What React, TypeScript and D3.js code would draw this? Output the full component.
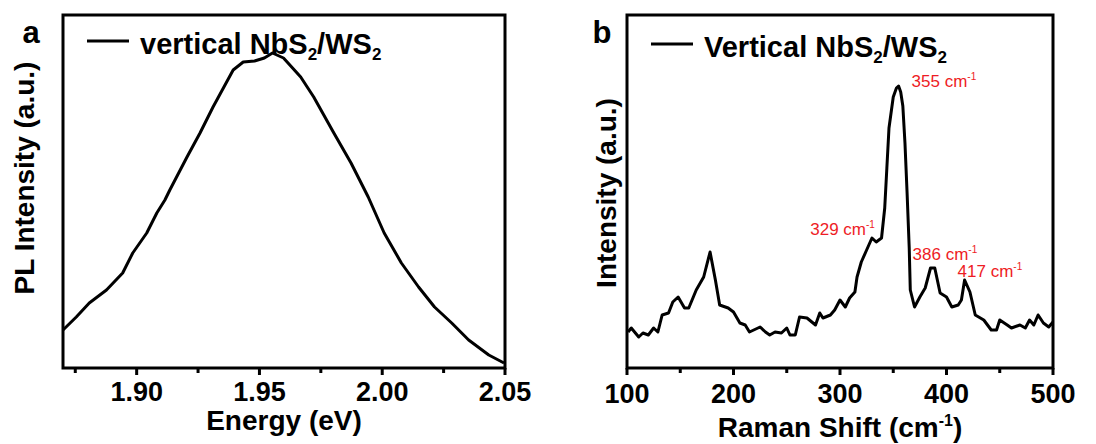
import React, { useEffect, useRef } from "react";
import * as d3 from "d3";

// PL spectrum (panel a)
const plEnergy = [1.870, 1.8754, 1.8807, 1.8877, 1.8943, 1.8984, 1.9041, 1.9082, 1.9115, 1.9135, 1.9205, 1.9258, 1.9311, 1.9393, 1.9434, 1.948, 1.952, 1.9553, 1.9598, 1.9668, 1.9721, 1.9803, 1.9873, 1.9943, 2.0008, 2.0078, 2.0148, 2.0213, 2.0283, 2.0352, 2.0434, 2.0496];
const plIntensity = [38, 51, 65, 78, 95, 115, 135, 155, 168, 178, 211, 235, 261, 298, 306, 307, 310, 315, 310, 291, 271, 235, 205, 171, 135, 105, 81, 61, 45, 28, 13, 5];
const plTicks = [1.90, 1.95, 2.00, 2.05];
const plMinor = [1.875, 1.925, 1.975, 2.025];

// Raman spectrum (panel b)
const ramanShift = [101, 104, 111, 115, 120, 125, 129, 133, 139, 143, 148, 154, 158, 165, 172, 178, 183, 187, 195, 200, 206, 211, 215, 225, 230, 234, 239, 245, 250, 253, 258, 262, 269, 277, 281, 284, 291, 295, 300, 305, 309, 314, 316, 320, 325, 330, 334, 339, 342, 344, 346, 350, 353, 355, 357, 359, 361, 363, 365, 366, 370, 375, 380, 385, 389, 394, 400, 405, 411, 414, 417, 422, 427, 435, 442, 447, 450, 457, 461, 469, 474, 478, 482, 486, 491, 496, 500];
const ramanIntensity = [36, 40, 31, 35, 33, 40, 36, 53, 55, 66, 71, 60, 60, 78, 91, 116, 88, 63, 60, 56, 45, 43, 36, 41, 36, 33, 36, 35, 40, 33, 33, 51, 50, 43, 55, 50, 53, 58, 68, 61, 70, 76, 91, 106, 118, 130, 126, 130, 160, 200, 240, 271, 280, 282, 276, 262, 225, 175, 120, 78, 61, 71, 80, 100, 100, 75, 71, 61, 63, 68, 88, 76, 53, 48, 38, 38, 48, 43, 40, 43, 40, 48, 43, 53, 45, 41, 46];
const ramanTicks = [100, 200, 300, 400, 500];
const ramanMinor = [150, 250, 350, 450];
const peakShift = [329, 355, 386, 417];
const peakLevel = [128, 282, 100, 88];

const font = "'Liberation Sans', Arial, sans-serif";

function drawPanel(svg, opt) {
  const x = d3.scaleLinear().domain(opt.xDomain).range([opt.left, opt.right]);
  const y = d3.scaleLinear().domain([0, 353]).range([368, 15]);
  const g = svg.append("g");

  const line = d3.line().x((d) => x(d[0])).y((d) => y(d[1]));
  g.append("path").datum(d3.zip(opt.xs, opt.ys)).attr("d", line)
    .attr("fill", "none").attr("stroke", "#000").attr("stroke-width", 3).attr("stroke-linejoin", "round");

  g.append("rect").attr("x", opt.left).attr("y", 15).attr("width", opt.right - opt.left).attr("height", 353)
    .attr("fill", "none").attr("stroke", "#000").attr("stroke-width", 3);

  g.selectAll(".major").data(opt.ticks).join("line").attr("class", "major")
    .attr("x1", (d) => x(d)).attr("x2", (d) => x(d)).attr("y1", 368).attr("y2", 375)
    .attr("stroke", "#000").attr("stroke-width", 3);
  g.selectAll(".minor").data(opt.minor).join("line").attr("class", "minor")
    .attr("x1", (d) => x(d)).attr("x2", (d) => x(d)).attr("y1", 368).attr("y2", 373)
    .attr("stroke", "#000").attr("stroke-width", 3);

  g.selectAll(".ticklabel").data(opt.ticks).join("text").attr("class", "ticklabel")
    .attr("x", (d) => x(d)).attr("y", opt.tickY).attr("text-anchor", "middle")
    .style("font-family", font).style("font-weight", "bold").style("font-size", "27px")
    .text(opt.fmt);

  g.append("text").attr("x", opt.letterX).attr("y", 43).attr("text-anchor", "middle")
    .style("font-family", font).style("font-weight", "bold").style("font-size", "31px").text(opt.letter);

  g.append("text").attr("transform", `translate(${opt.yLabelX}, ${opt.yLabelY}) rotate(-90)`)
    .attr("text-anchor", "middle")
    .style("font-family", font).style("font-weight", "bold").style("font-size", "28px").text(opt.yLabel);

  // legend
  g.append("line").attr("x1", opt.left + 24).attr("x2", opt.left + 66).attr("y1", opt.legendY - 13).attr("y2", opt.legendY - 13)
    .attr("stroke", "#000").attr("stroke-width", 3);
  const lt = g.append("text").attr("x", opt.left + 77).attr("y", opt.legendY)
    .style("font-family", font).style("font-weight", "bold").style("font-size", "29px");
  lt.append("tspan").text(opt.legend + " NbS");
  lt.append("tspan").attr("dy", 6).style("font-size", "17px").text("2");
  lt.append("tspan").attr("dy", -6).text("/WS");
  lt.append("tspan").attr("dy", 6).style("font-size", "17px").text("2");

  return { x, y, g };
}

export default function App() {
  const ref = useRef(null);

  useEffect(() => {
    const svg = d3.select(ref.current);
    svg.selectAll("*").remove();

    drawPanel(svg, {
      xDomain: [1.87, 2.05], left: 63, right: 505, xs: plEnergy, ys: plIntensity,
      ticks: plTicks, minor: plMinor, fmt: (d) => d3.format(".2f")(d), tickY: 401,
      letter: "a", letterX: 31, yLabel: "PL Intensity (a.u.)", yLabelX: 34, yLabelY: 178,
      legend: "vertical", legendY: 54
    });
    svg.append("text").attr("x", 284).attr("y", 430).attr("text-anchor", "middle")
      .style("font-family", font).style("font-weight", "bold").style("font-size", "28px").text("Energy (eV)");

    const b = drawPanel(svg, {
      xDomain: [100, 500], left: 627, right: 1053, xs: ramanShift, ys: ramanIntensity,
      ticks: ramanTicks, minor: ramanMinor, fmt: (d) => d, tickY: 403,
      letter: "b", letterX: 602, yLabel: "Intensity (a.u.)", yLabelX: 616, yLabelY: 193,
      legend: "Vertical", legendY: 57
    });
    const xt = svg.append("text").attr("x", 840).attr("y", 437).attr("text-anchor", "middle")
      .style("font-family", font).style("font-weight", "bold").style("font-size", "28px");
    xt.append("tspan").text("Raman Shift (cm");
    xt.append("tspan").attr("dy", -11).style("font-size", "16px").text("-1");
    xt.append("tspan").attr("dy", 11).text(")");

    // peak annotations
    const offs = [[4, -5, "end"], [13, 1, "start"], [-19, -8, "start"], [-7, -3, "start"]];
    peakShift.forEach((p, i) => {
      const t = b.g.append("text").attr("x", b.x(p) + offs[i][0]).attr("y", b.y(peakLevel[i]) + offs[i][1])
        .attr("text-anchor", offs[i][2])
        .style("font-family", font).style("font-size", "17px").attr("fill", "#ee1c25");
      t.append("tspan").text(p + " cm");
      t.append("tspan").attr("dy", -7).style("font-size", "10px").text("-1");
    });
  }, []);

  return (
    <div style={{ position: "absolute", left: 0, top: 0 }}>
      <svg ref={ref} width={1096} height={444} style={{ display: "block", background: "#fff" }} />
    </div>
  );
}
